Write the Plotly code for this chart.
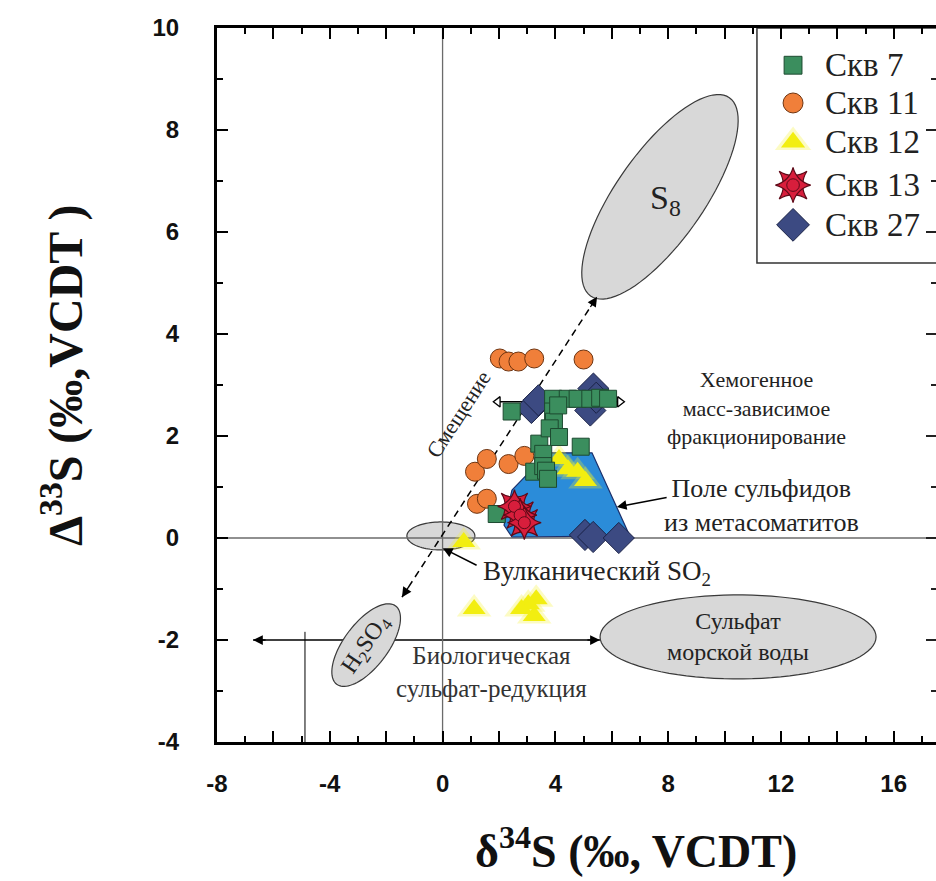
import numpy as np
import plotly.graph_objects as go

# ---------------- data ----------------
# Скв 7
x7 = [1.92, 2.45, 3.25, 3.43, 3.57, 3.57, 3.67, 3.74, 3.92, 3.92, 3.95, 3.80, 4.13, 4.44, 4.79, 5.24, 5.59, 5.87, 4.90, 4.10]
y7 = [0.47, 2.48, 1.30, 1.85, 1.65, 1.41, 1.32, 1.16, 2.73, 2.48, 2.28, 2.15, 1.98, 2.73, 2.73, 2.73, 2.75, 2.73, 1.79, 2.60]
# Скв 11
x11 = [2.03, 2.34, 2.69, 3.25, 5.00, 1.15, 1.57, 2.34, 2.90, 1.22, 1.57]
y11 = [3.52, 3.46, 3.46, 3.52, 3.50, 1.30, 1.55, 1.45, 1.61, 0.67, 0.77]
# Скв 12
x12 = [4.13, 4.45, 4.79, 5.07, 0.75, 1.12, 2.80, 3.04, 3.25, 3.32]
y12 = [1.55, 1.35, 1.30, 1.12, -0.08, -1.39, -1.39, -1.30, -1.53, -1.20]
# Скв 13
x13 = [2.55, 2.75, 2.90]
y13 = [0.62, 0.45, 0.30]
# Скв 27
x27 = [3.15, 3.40, 5.35, 5.24, 5.45, 5.05, 5.34, 6.25]
y27 = [2.55, 2.70, 2.93, 2.50, 2.75, 0.06, 0.02, 0.00]

series_names = ["Скв 7", "Скв 11", "Скв 12", "Скв 13", "Скв 27"]

# field of sulfides from metasomatites
field_x = [2.46, 3.74, 5.30, 6.64, 2.46, 2.18, 2.46]
field_y = [0.94, 1.67, 1.67, 0.04, 0.02, 0.25, 0.94]

x_ticks = list(range(-8, 17, 2))
y_ticks = list(range(-4, 11, 2))

# ---------------- layout constants ----------------
W, H = 936, 881
ML, MR, MT, MB = 217, 0, 28, 139
XMIN, XMAX = -8, 17.5
YMIN, YMAX = -4, 10
PX_X = (W - ML - MR) / (XMAX - XMIN)
PX_Y = (H - MT - MB) / (YMAX - YMIN)

SERIF = "Liberation Serif"
SANS = "Liberation Sans"
TXT = "#222222"

GREEN, GREEN_L = "#3b8e5e", "#1d4a30"
ORANGE, ORANGE_L = "#f07f3a", "#6e3410"
YELLOW = "#f2ee10"
RED, RED_L = "#d81e3c", "#5e0a18"
NAVY, NAVY_L = "#3c4a82", "#1a2246"
FIELD, FIELD_L = "#2b8cd9", "#1b2f6b"
ELL_FILL, ELL_LINE = "#d8d8d8", "#3a3a3a"


def ellipse_path(cx, cy, a_px, b_px, ang_deg, n=90):
    """Ellipse given in screen pixels (semi-axes, tilt), centred at a data point."""
    th = np.radians(ang_deg)
    t = np.linspace(0, 2 * np.pi, n, endpoint=False)
    dx = a_px * np.cos(t) * np.cos(th) - b_px * np.sin(t) * np.sin(th)
    dy = a_px * np.cos(t) * np.sin(th) + b_px * np.sin(t) * np.cos(th)
    xs = cx + dx / PX_X
    ys = cy + dy / PX_Y
    return "M " + " L ".join(f"{a:.4f},{b:.4f}" for a, b in zip(xs, ys)) + " Z"


def px_to_paper(px, py):
    return (px - ML) / (W - ML - MR), (H - MB - py) / (H - MT - MB)


fig = go.Figure()

# sulfide field polygon
fig.add_trace(go.Scatter(x=field_x, y=field_y, mode="lines", fill="toself",
                         fillcolor=FIELD, line=dict(color=FIELD_L, width=1.2),
                         hoverinfo="skip", showlegend=False))


def add_markers(xs, ys, kind, scale=1.0):
    def sc(**m):
        fig.add_trace(go.Scatter(x=xs, y=ys, mode="markers", showlegend=False,
                                 hoverinfo="skip", marker=m))
    if kind == "tri":
        sc(symbol="triangle-up", size=30 * scale, color="rgba(245,240,40,0.28)", line=dict(width=0))
        sc(symbol="triangle-up", size=20 * scale, color=YELLOW, line=dict(width=0))
    elif kind == "sq":
        sc(symbol="square", size=17 * scale, color=GREEN, line=dict(color=GREEN_L, width=1))
    elif kind == "circ":
        sc(symbol="circle", size=19 * scale, color=ORANGE, line=dict(color=ORANGE_L, width=1))
    elif kind == "star":
        for sym, sz, lw in (("star-square", 24, 1.2), ("star-diamond", 24, 1.2), ("circle", 12, 1)):
            sc(symbol=sym, size=sz * scale, color=RED, line=dict(color=RED_L, width=lw))
    elif kind == "dia":
        sc(symbol="diamond", size=24 * scale, color=NAVY, line=dict(color=NAVY_L, width=1))


add_markers(x12, y12, "tri")
add_markers(x27, y27, "dia")
add_markers(x11, y11, "circ")
add_markers(x7, y7, "sq")
add_markers(x13, y13, "star")

# open arrowheads of the chemogenic mass-dependent fractionation line
CHEM_Y, CHEM_X0, CHEM_X1 = 2.67, 1.96, 6.29
fig.add_trace(go.Scatter(x=[CHEM_X0, CHEM_X1], y=[CHEM_Y, CHEM_Y], mode="markers",
                         showlegend=False, hoverinfo="skip",
                         marker=dict(symbol=["triangle-left", "triangle-right"], size=9,
                                     color="white", line=dict(color="black", width=1.3))))

# ---------------- legend (drawn inside the frame) ----------------
LEG_X0, LEG_Y0 = 11.15, 5.39
LEG_MX, LEG_TX = 12.43, 13.49
leg_rows = [9.27, 8.53, 7.76, 6.92, 6.14]
kinds = ["sq", "circ", "tri", "star", "dia"]
for yy, kind in zip(leg_rows, kinds):
    add_markers([LEG_MX], [yy], kind, scale=1.05)

# ---------------- shapes ----------------
shapes = []
shapes.append(dict(type="rect", xref="x", yref="y", x0=LEG_X0, x1=XMAX + 2, y0=LEG_Y0, y1=YMAX,
                   fillcolor="white", line=dict(color="#333", width=1.5), layer="below"))
# S8
shapes.append(dict(type="path", path=ellipse_path(7.71, 6.69, 121, 44, 55),
                   fillcolor=ELL_FILL, line=dict(color=ELL_LINE, width=1.2), layer="below"))
# sea-water sulfate
shapes.append(dict(type="path", path=ellipse_path(10.48, -1.94, 138, 42, 0),
                   fillcolor=ELL_FILL, line=dict(color=ELL_LINE, width=1.2), layer="below"))
# biological sulfate reduction line
BIO_Y, BIO_X0, BIO_X1 = -2.0, -6.72, 5.58
shapes.append(dict(type="line", x0=BIO_X0, x1=BIO_X1, y0=BIO_Y, y1=BIO_Y,
                   line=dict(color="black", width=1.5), layer="below"))
shapes.append(dict(type="line", x0=-4.88, x1=-4.88, y0=-1.84, y1=YMIN,
                   line=dict(color="black", width=1), layer="below"))
# H2SO4
shapes.append(dict(type="path", path=ellipse_path(-2.71, -2.10, 49, 22, 53),
                   fillcolor=ELL_FILL, line=dict(color=ELL_LINE, width=1.2), layer="below"))
# volcanic SO2
shapes.append(dict(type="path", path=ellipse_path(-0.06, 0.04, 34, 14, 0),
                   fillcolor=ELL_FILL, line=dict(color=ELL_LINE, width=1.2), layer="below"))
# reference lines through zero
shapes.append(dict(type="line", x0=0, x1=0, y0=YMIN, y1=YMAX,
                   line=dict(color="#6b6b6b", width=1.3), layer="below"))
shapes.append(dict(type="line", x0=XMIN, x1=XMAX, y0=0, y1=0,
                   line=dict(color="#6b6b6b", width=1.3), layer="below"))
# mass-independent shift line
SH_X0, SH_Y0, SH_X1, SH_Y1 = -1.44, -1.16, 5.48, 4.73
shapes.append(dict(type="line", x0=SH_X0, y0=SH_Y0, x1=SH_X1, y1=SH_Y1,
                   line=dict(color="black", width=1.5, dash="7px,5px"), layer="below"))
# chemogenic mass-dependent line
shapes.append(dict(type="line", x0=CHEM_X0, x1=CHEM_X1, y0=CHEM_Y, y1=CHEM_Y,
                   line=dict(color="black", width=1.5), layer="below"))
# ticks of the right-hand frame, which lies just past the visible edge
for v in range(YMIN + 1, YMAX):
    tl = 10 if v % 2 == 0 else 5
    shapes.append(dict(type="line", x0=XMAX - tl / PX_X, x1=XMAX, y0=v, y1=v,
                       line=dict(color="#222", width=2), layer="above"))

# ---------------- annotations ----------------
ann = []


def txt(x, y, s, size=22, angle=0, xanchor="center", color=TXT):
    ann.append(dict(x=x, y=y, xref="x", yref="y", text=s, showarrow=False, textangle=angle,
                    xanchor=xanchor, yanchor="middle",
                    font=dict(family=SERIF, size=size, color=color)))


def head(x, y, dxp, dyp, size=1.5):
    ann.append(dict(x=x, y=y, xref="x", yref="y", ax=dxp, ay=dyp, text="", showarrow=True,
                    arrowhead=2, arrowsize=size, arrowwidth=1.3, arrowcolor="black", standoff=0))


def pointer(x, y, tx, ty):
    ann.append(dict(x=x, y=y, xref="x", yref="y", ax=tx, ay=ty, axref="x", ayref="y",
                    text="", showarrow=True, arrowhead=2, arrowsize=1.3, arrowwidth=1.5,
                    arrowcolor="black", standoff=0))


# shift arrowheads (direction along the dashed line in screen space)
dxs = (SH_X1 - SH_X0) * PX_X
dys = (SH_Y1 - SH_Y0) * PX_Y
ln = np.hypot(dxs, dys)
ux, uy = dxs / ln, dys / ln
head(SH_X1, SH_Y1, -ux * 14, uy * 14)
head(SH_X0, SH_Y0, ux * 14, -uy * 14)
# biological reduction arrowheads
head(BIO_X0, BIO_Y, 14, 0)
head(BIO_X1, BIO_Y, -14, 0)
# pointers to the volcanic SO2 field and the sulfide field
pointer(0.01, -0.20, 1.26, -0.55)
pointer(6.18, 0.61, 8.0, 0.80)

txt(7.89, 6.63, "S<sub>8</sub>", size=34)
txt(-2.71, -2.10, "H<sub>2</sub>SO<sub>4</sub>", size=24, angle=-56)
txt(0.55, 2.43, "Смещение", size=22, angle=-57)
txt(11.15, 2.55, "Хемогенное<br>масс-зависимое<br>фракционирование", size=22)
txt(11.3, 0.63, "Поле сульфидов<br>из метасоматитов", size=26)
txt(1.36, -0.69, "Вулканический SO<sub>2</sub>", size=27, xanchor="left")
txt(10.48, -1.94, "Сульфат<br>морской воды", size=24)
txt(1.75, -2.63, "Биологическая<br>сульфат-редукция", size=25, color="#333333")

for yy, name in zip(leg_rows, series_names):
    ann.append(dict(x=LEG_TX, y=yy, xref="x", yref="y", text=name, showarrow=False,
                    xanchor="left", yanchor="middle", font=dict(family=SERIF, size=33, color=TXT)))

# axis titles
px_, py_ = px_to_paper(62, 376)
ann.append(dict(x=px_, y=py_, xref="paper", yref="paper", showarrow=False, textangle=-90,
                text="<b>Δ<sup>33</sup>S (‰,VCDT )</b>", xanchor="center", yanchor="middle",
                font=dict(family=SERIF, size=48, color="#111")))
px_, py_ = px_to_paper(636, 848)
ann.append(dict(x=px_, y=py_, xref="paper", yref="paper", showarrow=False,
                text="<b>δ<sup>34</sup>S (‰, VCDT)</b>", xanchor="center", yanchor="middle",
                font=dict(family=SERIF, size=46, color="#111")))

tickfont = dict(family=SANS, size=24, color="#111", weight="bold")

fig.update_layout(
    width=W, height=H,
    margin=dict(l=ML, r=MR, t=MT, b=MB, autoexpand=False),
    paper_bgcolor="white", plot_bgcolor="white",
    showlegend=False,
    shapes=shapes, annotations=ann,
    xaxis=dict(range=[XMIN, XMAX], showgrid=False, zeroline=False,
               showline=True, linewidth=3, linecolor="black", mirror="ticks",
               ticks="inside", ticklen=11, tickwidth=2, tickcolor="black",
               tickvals=x_ticks, ticktext=[str(v) if v % 4 == 0 else "" for v in x_ticks],
               tickfont=tickfont, ticklabelstandoff=18,
               minor=dict(dtick=1, tick0=0, ticks="inside", ticklen=6, tickwidth=1.6, tickcolor="black")),
    yaxis=dict(range=[YMIN, YMAX], showgrid=False, zeroline=False,
               showline=True, linewidth=3, linecolor="black",
               ticks="inside", ticklen=11, tickwidth=2, tickcolor="black",
               tickvals=y_ticks, ticktext=[str(v) for v in y_ticks],
               tickfont=tickfont, ticklabelstandoff=30,
               minor=dict(dtick=1, tick0=0, ticks="inside", ticklen=6, tickwidth=1.6, tickcolor="black")),
)

fig.write_html("out.html")
